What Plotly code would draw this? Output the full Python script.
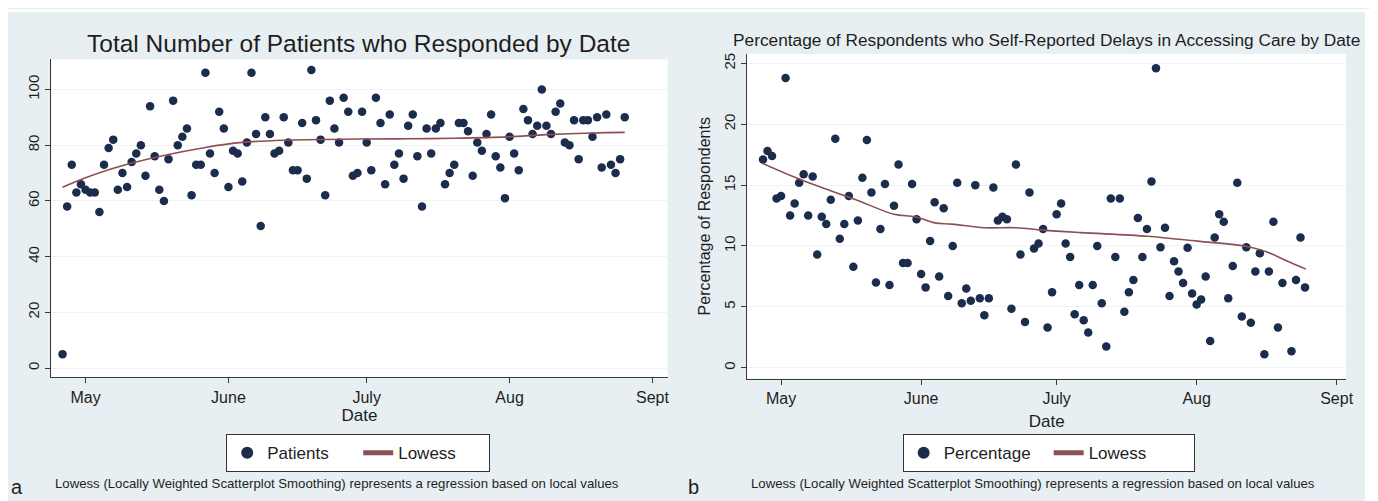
import pandas as pd
import plotly.graph_objects as go

# ---------------- data ----------------
BASE = pd.Timestamp("2020-05-01")

# Panel a: total number of patients who responded, one value per day from 26 April
patients_start = "2020-04-26"
patients = [5, 58, 73, 63, 66, 64, 63, 63, 56, 73, 79, 82, 64, 70, 65, 74, 77, 80, 69, 94,
            76, 64, 60, 75, 96, 80, 83, 86, 62, 73, 73, 106, 77, 70, 92, 86, 65, 78, 77, 67,
            81, 106, 84, 51, 90, 84, 77, 78, 90, 81, 71, 71, 88, 68, 107, 89, 82, 62, 96, 86,
            81, 97, 92, 69, 70, 92,
            81, 71, 97, 88, 66, 91, 73, 77, 68, 87, 91, 76, 58, 86, 77, 86, 88, 66, 70, 73,
            88, 88, 85, 69, 81, 78, 84, 91, 76, 72, 61, 83, 77, 71, 93, 89, 84, 87, 100, 87,
            84, 92, 95, 81, 80, 89, 75, 89, 89, 83, 90, 72, 91, 73, 70, 75, 90]

# Lowess curve of panel a (days after 1 May, value)
patients_lowess_days = [-5, 0, 6.6, 16.7, 26, 34, 43, 59, 70, 80, 91.6, 100, 110, 117]
patients_lowess = [64.9, 68.3, 72.0, 76.2, 79.2, 81.0, 81.8, 82.2, 82.3, 82.5, 83.0, 83.8, 84.4, 84.6]

# Panel b: percentage of respondents reporting delays (days after 1 May)
pct_days = list(range(-4, 112)) + [113, 114, 115, 116]
pct = [17.1, 17.8, 17.4, 13.9, 14.1, 23.8, 12.5, 13.5, 15.2, 15.9,
       12.5, 15.7, 9.3, 12.4, 11.8, 13.8, 18.8, 10.6, 11.8, 14.1,
       8.3, 12.1, 15.6, 18.7, 14.4, 7.0, 11.4, 15.1, 6.8, 13.3,
       16.7, 8.6, 8.6, 15.1, 12.2, 7.7, 6.6, 10.4, 13.6, 7.5,
       13.1, 5.9, 10.0, 15.2, 5.3, 6.5, 5.5, 15.0, 5.7, 4.3,
       5.7, 14.8, 12.1, 12.4, 12.2, 4.85, 16.7, 9.3, 3.75, 14.4,
       9.8, 10.2, 11.4, 3.3, 6.2, 12.6, 13.5, 10.2, 9.1, 4.4,
       6.8, 3.9, 2.9, 6.8, 10.0, 5.3, 1.75, 13.9, 9.1, 13.9,
       4.6, 6.2, 7.2, 12.3, 9.1, 11.4, 15.3, 24.6, 9.9, 11.5,
       5.9, 8.75, 7.9, 6.95, 9.85, 6.1, 5.2, 5.6, 7.5, 2.2,
       10.7, 12.6, 12.0, 5.7, 8.35, 15.2, 4.2, 9.9, 3.7, 7.9,
       9.4, 1.1, 7.9, 12.0, 3.3, 6.95, 1.35, 7.2, 10.7, 6.6]

pct_lowess_days = [-4.2, 4, 14.3, 17.3, 25, 29.7, 34, 37.8, 45, 52, 58, 66.4, 81.1, 92.1, 103.2, 107.6, 112, 116.2]
pct_lowess = [16.8, 15.5, 14.1, 13.7, 12.6, 12.4, 11.9, 11.8, 11.5, 11.5, 11.3, 11.1, 10.8, 10.4, 9.96, 9.5, 8.76, 8.1]

month_ticks = ["2020-05-01", "2020-06-01", "2020-07-01", "2020-08-01", "2020-09-01"]
month_labels = ["May", "June", "July", "Aug", "Sept"]
left_yticks = [0, 20, 40, 60, 80, 100]
right_yticks = [0, 5, 10, 15, 20, 25]

# ---------------- helpers ----------------
PAGE_OFF = 8              # default body margin of the html page
W, H = 1378 - PAGE_OFF, 501 - PAGE_OFF
FONT = "Liberation Sans, Arial, Helvetica, sans-serif"
NAVY = "#1c2c4c"
MAROON = "#8e4e52"
BG = "#e8eff2"
TXT = "#1e1e1e"


def to_dates(days):
    return [BASE + pd.Timedelta(days=float(d)) for d in days]


def px_x(p):
    """page pixel x -> paper fraction"""
    return (p - PAGE_OFF) / W


def px_y(p):
    """page pixel y -> paper fraction"""
    return 1 - (p - PAGE_OFF) / H


patients_dates = pd.date_range(patients_start, periods=len(patients), freq="D")
pct_dates = to_dates(pct_days)

fig = go.Figure()

fig.add_trace(go.Scatter(x=patients_dates, y=patients, mode="markers", name="Patients",
                         marker=dict(color=NAVY, size=8.5), xaxis="x", yaxis="y", legend="legend"))
fig.add_trace(go.Scatter(x=to_dates(patients_lowess_days), y=patients_lowess, mode="lines",
                         name="Lowess", line=dict(color=MAROON, width=1.6, shape="spline"),
                         xaxis="x", yaxis="y", legend="legend"))
fig.add_trace(go.Scatter(x=pct_dates, y=pct, mode="markers", name="Percentage",
                         marker=dict(color=NAVY, size=8.5), xaxis="x2", yaxis="y2", legend="legend2"))
fig.add_trace(go.Scatter(x=to_dates(pct_lowess_days), y=pct_lowess, mode="lines",
                         name="Lowess", line=dict(color=MAROON, width=1.6, shape="spline"),
                         xaxis="x2", yaxis="y2", legend="legend2"))

axis_common = dict(showline=True, linecolor="#3a3a3a", linewidth=1.3, ticks="outside",
                   ticklen=5, tickcolor="#3a3a3a", tickwidth=1, zeroline=False,
                   tickfont=dict(family=FONT, size=16, color=TXT))

xa = dict(axis_common, type="date", tickmode="array", tickvals=month_ticks, ticktext=month_labels,
          showgrid=False)
ya_common = dict(axis_common, showgrid=True, gridcolor="#eef3f5", gridwidth=1, tickangle=-90)
ya_common["tickfont"] = dict(family=FONT, size=15, color=TXT)

fig.update_layout(
    width=W, height=H,
    margin=dict(l=0, r=0, t=0, b=0),
    paper_bgcolor=BG, plot_bgcolor="white",
    showlegend=True,
    xaxis=dict(xa, domain=[px_x(51.7), px_x(671)],
               range=[BASE + pd.Timedelta(days=-7.4), BASE + pd.Timedelta(days=126.3)], anchor="y",
               title=dict(text="Date", font=dict(family=FONT, size=17, color=TXT), standoff=2)),
    yaxis=dict(ya_common, domain=[px_y(377), px_y(58.5)], range=[-3.3, 110.8],
               tickvals=left_yticks, anchor="x"),
    xaxis2=dict(xa, domain=[px_x(751), px_x(1353)],
                range=[BASE + pd.Timedelta(days=-7.5), BASE + pd.Timedelta(days=125.1)], anchor="y2",
                title=dict(text="Date", font=dict(family=FONT, size=17, color=TXT), standoff=9)),
    yaxis2=dict(ya_common, domain=[px_y(378.3), px_y(53)], range=[-0.89, 25.78],
                tickvals=right_yticks, anchor="x2",
                title=dict(text="Percentage of Respondents", font=dict(family=FONT, size=16, color=TXT),
                           standoff=6)),
    legend=dict(orientation="h", x=px_x(360), xanchor="center", y=px_y(434), yanchor="top",
                bgcolor="white", bordercolor="#333", borderwidth=1,
                font=dict(family=FONT, size=17, color=TXT), entrywidth=86, itemsizing="constant"),
    legend2=dict(orientation="h", x=px_x(1054), xanchor="center", y=px_y(434), yanchor="top",
                 bgcolor="white", bordercolor="#333", borderwidth=1,
                 font=dict(family=FONT, size=17, color=TXT), entrywidth=100, itemsizing="constant"),
    shapes=[
        dict(type="rect", xref="paper", yref="paper", x0=0, x1=1, y0=px_y(11), y1=1,
             fillcolor="white", line=dict(width=0), layer="below"),
        dict(type="rect", xref="paper", yref="paper", x0=px_x(1372), x1=1, y0=0, y1=1,
             fillcolor="white", line=dict(width=0), layer="below"),
    ],
    annotations=[
        dict(text="Total Number of Patients who Responded by Date", xref="paper", yref="paper",
             x=px_x(360), y=px_y(43), xanchor="center", yanchor="middle", showarrow=False,
             font=dict(family=FONT, size=24.5, color=TXT)),
        dict(text="Percentage of Respondents who Self-Reported Delays in Accessing Care by Date",
             xref="paper", yref="paper", x=px_x(1052), y=px_y(39), xanchor="center", yanchor="middle",
             showarrow=False, font=dict(family=FONT, size=17.3, color=TXT)),
        dict(text="Lowess (Locally Weighted Scatterplot Smoothing) represents a regression based on local values",
             xref="paper", yref="paper", x=px_x(53), y=px_y(483), xanchor="left", yanchor="middle",
             showarrow=False, font=dict(family=FONT, size=13.2, color=TXT)),
        dict(text="Lowess (Locally Weighted Scatterplot Smoothing) represents a regression based on local values",
             xref="paper", yref="paper", x=px_x(753), y=px_y(483), xanchor="left", yanchor="middle",
             showarrow=False, font=dict(family=FONT, size=13.2, color=TXT)),
        dict(text="a", xref="paper", yref="paper", x=px_x(9), y=px_y(487), xanchor="left", yanchor="middle",
             showarrow=False, font=dict(family=FONT, size=20, color=TXT)),
        dict(text="b", xref="paper", yref="paper", x=px_x(689), y=px_y(487), xanchor="left", yanchor="middle",
             showarrow=False, font=dict(family=FONT, size=20, color=TXT)),
    ],
)

fig.write_html("out.html")
